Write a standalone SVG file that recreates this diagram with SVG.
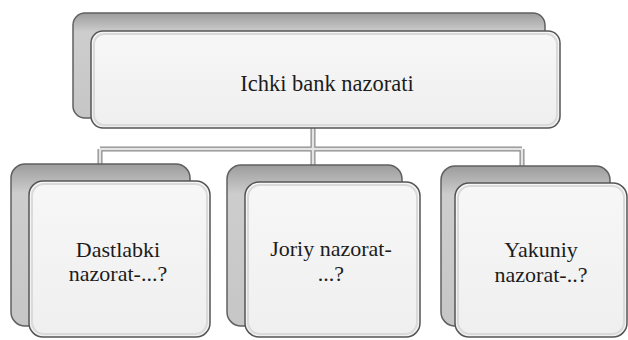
<svg xmlns="http://www.w3.org/2000/svg" width="628" height="340" viewBox="0 0 628 340">
<defs>
<linearGradient id="backG" x1="0" y1="0" x2="0" y2="1">
<stop offset="0" stop-color="#9c9c9c"/>
<stop offset="0.18" stop-color="#cdcdcd"/>
<stop offset="1" stop-color="#c6c6c6"/>
</linearGradient>
<linearGradient id="frontG" x1="0" y1="0" x2="0" y2="1">
<stop offset="0" stop-color="#f7f7f7"/>
<stop offset="1" stop-color="#efefef"/>
</linearGradient>
</defs>
<style>
.back{fill:url(#backG);stroke:#606060;stroke-width:1.5}
.front{fill:url(#frontG);stroke:#555;stroke-width:1.5}
.inner{fill:none;stroke:#dadada;stroke-width:2}
.lbl{font-family:"Liberation Serif","Times New Roman",serif;font-size:22px;fill:#1c1c1c;text-anchor:middle}
.cO{stroke:#8a8a8a;stroke-width:5;fill:none}
.cI{stroke:#e4e4e4;stroke-width:2.5;fill:none}
</style>
<rect width="628" height="340" fill="#ffffff"/>
<g id="connectors">
<path class="cO" d="M313 128V165M100 149H522M100 149V165M522 149V166"/>
<path class="cI" d="M313 128V165M100 149H522M100 149V165M522 149V166"/>
</g>
<g id="node-top">
<rect class="back" x="73" y="13" width="472" height="105" rx="12"/>
<rect class="front" x="91" y="31" width="469" height="97" rx="12"/>
<rect class="inner" x="94" y="34" width="463" height="91" rx="10"/>
<text class="lbl" x="327" y="91" font-family="Liberation Serif, serif" style="font-size:22.5px">Ichki bank nazorati</text>
</g>
<g id="node-dastlabki">
<rect class="back" x="11" y="164" width="179" height="162" rx="14"/>
<rect class="front" x="29" y="181" width="181" height="156" rx="14"/>
<rect class="inner" x="32" y="184" width="175" height="150" rx="12"/>
<text class="lbl" x="118" y="257" font-family="Liberation Serif, serif">Dastlabki</text>
<text class="lbl" x="118" y="281" font-family="Liberation Serif, serif">nazorat-...?</text>
</g>
<g id="node-joriy">
<rect class="back" x="227" y="165" width="175" height="161" rx="14"/>
<rect class="front" x="245" y="182" width="175" height="155" rx="14"/>
<rect class="inner" x="248" y="185" width="169" height="149" rx="12"/>
<text class="lbl" x="331" y="256" font-family="Liberation Serif, serif">Joriy nazorat-</text>
<text class="lbl" x="331" y="281" font-family="Liberation Serif, serif">...?</text>
</g>
<g id="node-yakuniy">
<rect class="back" x="441" y="166" width="169" height="160" rx="14"/>
<rect class="front" x="455" y="183" width="172" height="154" rx="14"/>
<rect class="inner" x="458" y="186" width="166" height="148" rx="12"/>
<text class="lbl" x="541" y="257" font-family="Liberation Serif, serif">Yakuniy</text>
<text class="lbl" x="541" y="282" font-family="Liberation Serif, serif">nazorat-..?</text>
</g>
</svg>
